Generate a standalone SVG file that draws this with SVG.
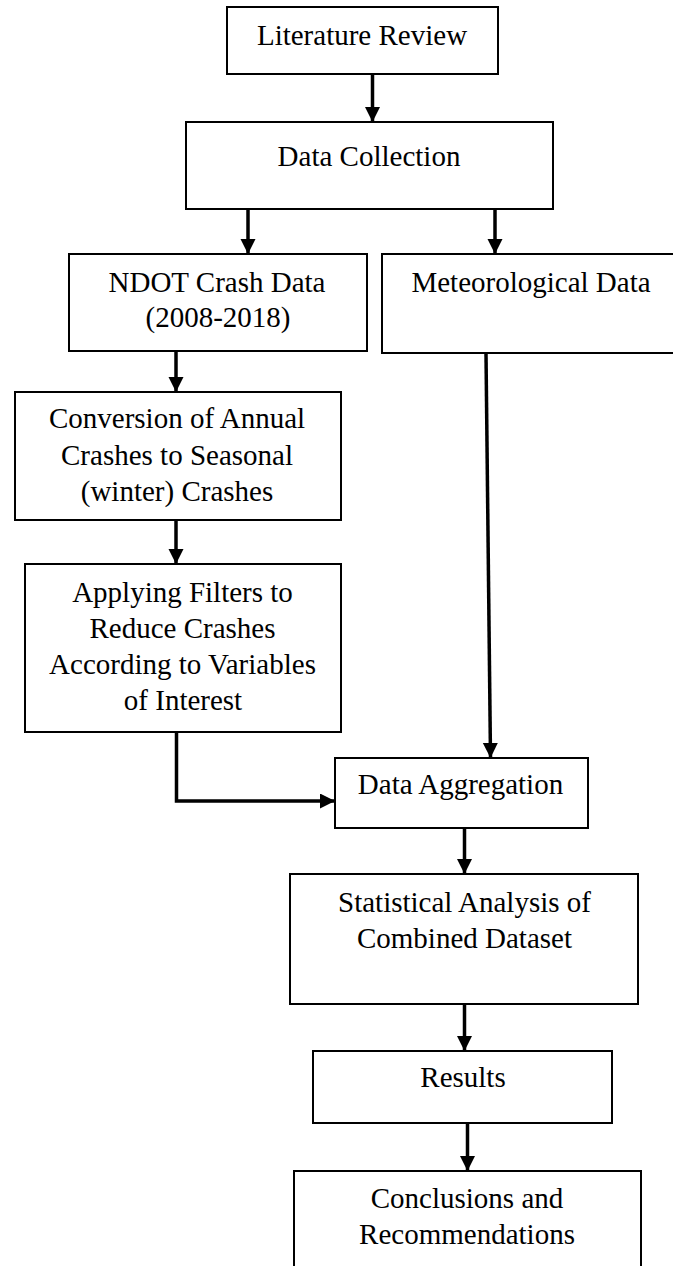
<svg xmlns="http://www.w3.org/2000/svg" width="673" height="1266" viewBox="0 0 673 1266">
<style>
.box{fill:#fff;stroke:#000;stroke-width:2}
.lbl{font-family:"Liberation Serif","Times New Roman",serif;font-size:29px;fill:#000;text-anchor:middle}
.con{fill:none;stroke:#000;stroke-width:3.5}
</style>
<defs>
<marker id="ah" markerUnits="userSpaceOnUse" markerWidth="16" markerHeight="16" refX="15" refY="7.5" orient="auto">
<path d="M0,0 L15,7.5 L0,15 z" fill="#000"/>
</marker>
</defs>
<rect width="673" height="1266" fill="#fff"/>
<g id="n-literature"><rect class="box" x="227" y="7" width="271" height="67"/><text class="lbl" x="362" y="45">Literature Review</text></g>
<g id="n-datacollection"><rect class="box" x="186" y="122" width="367" height="87"/><text class="lbl" x="369" y="166">Data Collection</text></g>
<g id="n-ndot"><rect class="box" x="69" y="254" width="298" height="97"/><text class="lbl" x="217" y="292">NDOT Crash Data</text><text class="lbl" x="218" y="327">(2008-2018)</text></g>
<g id="n-meteo"><rect class="box" x="382" y="254" width="299" height="99"/><text class="lbl" x="531" y="292">Meteorological Data</text></g>
<g id="n-conversion"><rect class="box" x="15" y="392" width="326" height="128"/><text class="lbl" x="177" y="428">Conversion of Annual</text><text class="lbl" x="177" y="464.5">Crashes to Seasonal</text><text class="lbl" x="177" y="500.5">(winter) Crashes</text></g>
<g id="n-filters"><rect class="box" x="25" y="564" width="316" height="168"/><text class="lbl" x="182.5" y="601.5">Applying Filters to</text><text class="lbl" x="182.5" y="637.5">Reduce Crashes</text><text class="lbl" x="182.5" y="674">According to Variables</text><text class="lbl" x="183" y="710">of Interest</text></g>
<g id="n-aggregation"><rect class="box" x="335" y="758" width="253" height="70"/><text class="lbl" x="460.5" y="794">Data Aggregation</text></g>
<g id="n-statistical"><rect class="box" x="290" y="874" width="348" height="130"/><text class="lbl" x="464.5" y="911.5">Statistical Analysis of</text><text class="lbl" x="464.5" y="947.5">Combined Dataset</text></g>
<g id="n-results"><rect class="box" x="313" y="1051" width="299" height="72"/><text class="lbl" x="463" y="1087">Results</text></g>
<g id="n-conclusions"><rect class="box" x="294" y="1171" width="347" height="120"/><text class="lbl" x="467" y="1207.5">Conclusions and</text><text class="lbl" x="467" y="1244">Recommendations</text></g>
<g id="connectors">
<line class="con" x1="372.5" y1="75" x2="372.5" y2="122" marker-end="url(#ah)"/>
<line class="con" x1="248" y1="210" x2="248" y2="254" marker-end="url(#ah)"/>
<line class="con" x1="495" y1="210" x2="495" y2="254" marker-end="url(#ah)"/>
<line class="con" x1="176" y1="352" x2="176" y2="392" marker-end="url(#ah)"/>
<line class="con" x1="176" y1="521" x2="176" y2="564" marker-end="url(#ah)"/>
<polyline class="con" points="176.5,733 176.5,801 335,801" marker-end="url(#ah)"/>
<line class="con" x1="486" y1="354" x2="490.5" y2="758" marker-end="url(#ah)"/>
<line class="con" x1="464.5" y1="829" x2="464.5" y2="874" marker-end="url(#ah)"/>
<line class="con" x1="464.5" y1="1005" x2="464.5" y2="1051" marker-end="url(#ah)"/>
<line class="con" x1="467.5" y1="1124" x2="467.5" y2="1171" marker-end="url(#ah)"/>
</g>
</svg>
